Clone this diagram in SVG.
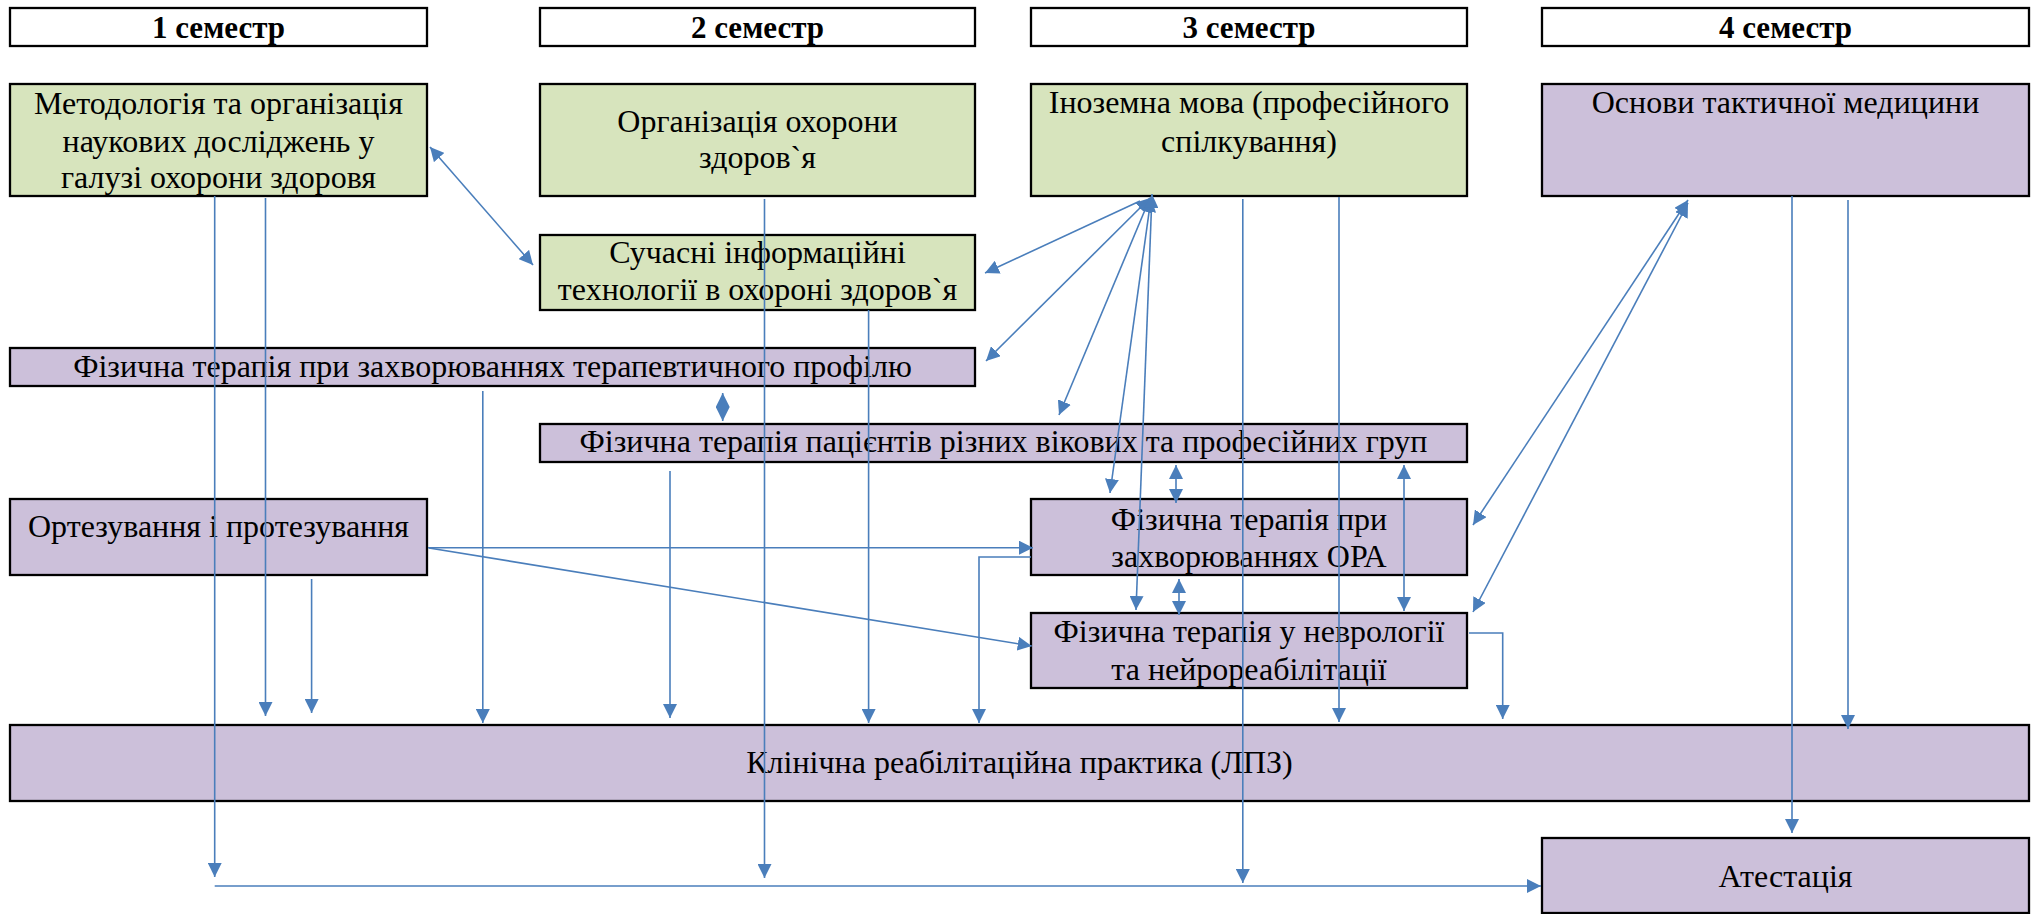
<svg xmlns="http://www.w3.org/2000/svg" width="2037" height="914" viewBox="0 0 2037 914">
<style>
.hd{fill:#ffffff;stroke:#000;stroke-width:2.3}
.gr{fill:#D7E4BD;stroke:#000;stroke-width:2.3}
.pu{fill:#CCC0DA;stroke:#000;stroke-width:2.3}
text{font-family:"Liberation Serif","Times New Roman",serif;font-size:32px;fill:#000;text-anchor:middle}
.b{font-weight:bold;font-size:31px}
.c line,.c polyline{stroke:#4A7EBB;stroke-width:1.6;fill:none}
.c .a{marker-end:url(#arr)}
.c .d{marker-start:url(#arr);marker-end:url(#arr)}
</style>
<defs>
<marker id="arr" markerUnits="userSpaceOnUse" markerWidth="14" markerHeight="14" viewBox="0 0 14 14" refX="14" refY="7" orient="auto-start-reverse">
<path d="M0,0 L14,7 L0,14 z" fill="#4A7EBB"/>
</marker>
</defs>
<rect width="2037" height="914" fill="#ffffff"/>
<g id="h1"><rect class="hd" x="10" y="8" width="417" height="38"/><text class="b" x="218.5" y="38">1 семестр</text></g>
<g id="h2"><rect class="hd" x="540" y="8" width="435" height="38"/><text class="b" x="757.5" y="38">2 семестр</text></g>
<g id="h3"><rect class="hd" x="1031" y="8" width="436" height="38"/><text class="b" x="1249" y="38">3 семестр</text></g>
<g id="h4"><rect class="hd" x="1542" y="8" width="487" height="38"/><text class="b" x="1785.5" y="38">4 семестр</text></g>
<g id="n1"><rect class="gr" x="10" y="84" width="417" height="112"/><text x="218.5" y="114">Методологія та організація</text><text x="218.5" y="152">наукових досліджень у</text><text x="218.5" y="188">галузі охорони здоровя</text></g>
<g id="n2"><rect class="gr" x="540" y="84" width="435" height="112"/><text x="757.5" y="132">Організація охорони</text><text x="757.5" y="168">здоров`я</text></g>
<g id="n3"><rect class="gr" x="1031" y="84" width="436" height="112"/><text x="1249" y="113">Іноземна мова (професійного</text><text x="1249" y="152">спілкування)</text></g>
<g id="n4"><rect class="pu" x="1542" y="84" width="487" height="112"/><text x="1785.5" y="113">Основи тактичної медицини</text></g>
<g id="n5"><rect class="gr" x="540" y="235" width="435" height="75"/><text x="757.5" y="263">Сучасні інформаційні</text><text x="757.5" y="300">технології в охороні здоров`я</text></g>
<g id="n6"><rect class="pu" x="10" y="348" width="965" height="38"/><text x="492.5" y="377">Фізична терапія при захворюваннях терапевтичного профілю</text></g>
<g id="n7"><rect class="pu" x="540" y="424" width="927" height="38"/><text x="1003.5" y="452">Фізична терапія пацієнтів різних вікових та професійних груп</text></g>
<g id="n8"><rect class="pu" x="10" y="499" width="417" height="76"/><text x="218.5" y="537">Ортезування і протезування</text></g>
<g id="n9"><rect class="pu" x="1031" y="499" width="436" height="76"/><text x="1249" y="530">Фізична терапія при</text><text x="1249" y="567">захворюваннях ОРА</text></g>
<g id="n10"><rect class="pu" x="1031" y="613" width="436" height="75"/><text x="1249" y="642">Фізична терапія у неврології</text><text x="1249" y="680">та нейрореабілітації</text></g>
<g id="n11"><rect class="pu" x="10" y="725" width="2019" height="76"/><text x="1019.5" y="773">Клінічна реабілітаційна практика (ЛПЗ)</text></g>
<g id="n12"><rect class="pu" x="1542" y="838" width="487" height="75"/><text x="1785.5" y="887">Атестація</text></g>
<g id="connectors" class="c">
<line class="d" x1="430" y1="147" x2="533" y2="265"/>
<line class="a" x1="214.7" y1="196" x2="214.7" y2="877"/>
<line class="a" x1="214.7" y1="886" x2="1541" y2="886"/>
<line class="a" x1="265.5" y1="198" x2="265.5" y2="716"/>
<line class="a" x1="311.6" y1="579" x2="311.6" y2="713"/>
<line class="a" x1="482.8" y1="391" x2="482.8" y2="723"/>
<line class="d" x1="722.7" y1="393" x2="722.7" y2="421"/>
<line class="a" x1="670" y1="471" x2="670" y2="718"/>
<line class="a" x1="764.5" y1="199" x2="764.5" y2="878"/>
<line class="a" x1="868.6" y1="310" x2="868.6" y2="723"/>
<line class="a" x1="428" y1="547.7" x2="1033" y2="547.7"/>
<line class="a" x1="429" y1="548" x2="1031.7" y2="646"/>
<polyline class="a" points="1031,557 979,557 979,723"/>
<polyline class="a" points="1469,633 1502.7,633 1502.7,719"/>
<line class="a" x1="1242.8" y1="199" x2="1242.8" y2="883"/>
<line class="a" x1="1339" y1="197" x2="1339" y2="722"/>
<line class="a" x1="1792" y1="196" x2="1792" y2="833"/>
<line class="a" x1="1848" y1="200" x2="1848" y2="729"/>
<line class="a" x1="1140" y1="201" x2="985" y2="273"/>
<line class="d" x1="1150" y1="198" x2="986" y2="361"/>
<line class="d" x1="1150" y1="198" x2="1059" y2="415"/>
<line class="d" x1="1151" y1="198" x2="1110" y2="493"/>
<line class="d" x1="1152" y1="194" x2="1136" y2="610"/>
<line class="d" x1="1176" y1="465" x2="1176" y2="503"/>
<line class="d" x1="1179" y1="579" x2="1179" y2="615"/>
<line class="d" x1="1404" y1="465" x2="1404" y2="611"/>
<line class="d" x1="1688" y1="200" x2="1473" y2="525"/>
<line class="d" x1="1688" y1="203" x2="1473" y2="612"/>
</g>
</svg>
